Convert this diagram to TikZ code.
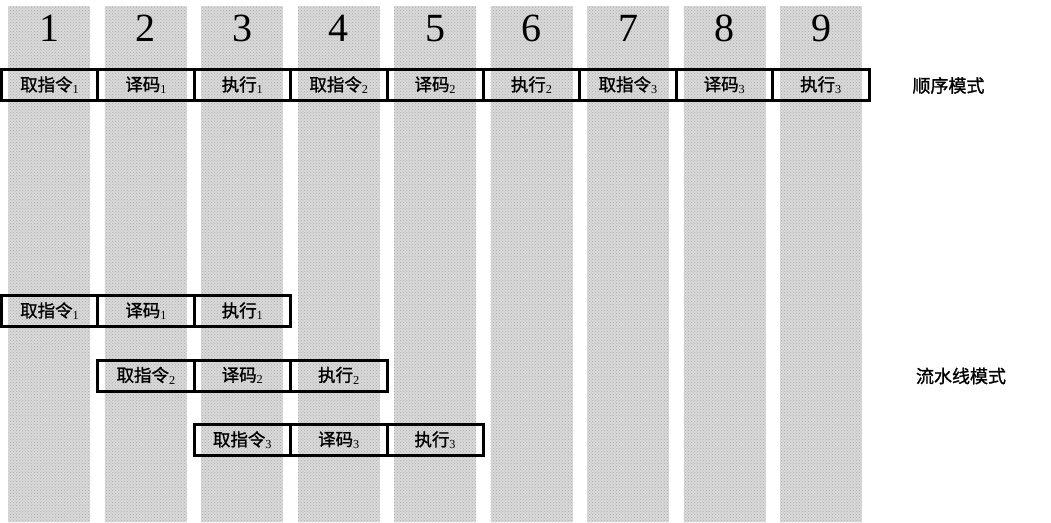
\documentclass[tikz,border=0pt]{standalone}
\usepackage{fontspec}
\setmainfont{Liberation Serif}
\newfontfamily\cjk[FakeBold=1.2]{Noto Sans CJK SC}
\usetikzlibrary{positioning,patterns}

\begin{document}
\begin{tikzpicture}[x=1pt,y=-1pt,
  cell/.style={draw, line width=3pt, outer sep=0pt, inner sep=0pt,
    minimum width=96.4pt, minimum height=31pt, font=\fontsize{17.5}{17.5}\selectfont},
  stagenum/.style={font=\fontsize{40}{40}\selectfont},
  modelabel/.style={font=\cjk\fontsize{18}{18}\selectfont}]
\useasboundingbox (0,0) rectangle (1051,522);
% time slots
\foreach \k in {0,...,8}{
  \fill[black!15] ({8+96.5*\k},6) rectangle ({90+96.5*\k},522);
  \fill[pattern=crosshatch dots, pattern color=black!32] ({8+96.5*\k},6) rectangle ({90+96.5*\k},522);
}
\foreach \k in {1,...,9}
  \node[stagenum] (t\k) at ({49+96.5*(\k-1)},28.5) {\k};

% sequential
\node[cell, anchor=west] (a1) at (1.5,85) {{\cjk 取指令}\textsubscript{1}};
\node[cell, right=0pt of a1] (a2) {{\cjk 译码}\textsubscript{1}};
\node[cell, right=0pt of a2] (a3) {{\cjk 执行}\textsubscript{1}};
\node[cell, right=0pt of a3] (a4) {{\cjk 取指令}\textsubscript{2}};
\node[cell, right=0pt of a4] (a5) {{\cjk 译码}\textsubscript{2}};
\node[cell, right=0pt of a5] (a6) {{\cjk 执行}\textsubscript{2}};
\node[cell, right=0pt of a6] (a7) {{\cjk 取指令}\textsubscript{3}};
\node[cell, right=0pt of a7] (a8) {{\cjk 译码}\textsubscript{3}};
\node[cell, right=0pt of a8] (a9) {{\cjk 执行}\textsubscript{3}};
\node[modelabel] (seq) at (948.5,85.5) {顺序模式};

% pipeline
\node[cell, anchor=west] (b1) at (1.5,311) {{\cjk 取指令}\textsubscript{1}};
\node[cell, right=0pt of b1] (b2) {{\cjk 译码}\textsubscript{1}};
\node[cell, right=0pt of b2] (b3) {{\cjk 执行}\textsubscript{1}};
\node[cell, anchor=west] (c1) at (97.9,375.5) {{\cjk 取指令}\textsubscript{2}};
\node[cell, right=0pt of c1] (c2) {{\cjk 译码}\textsubscript{2}};
\node[cell, right=0pt of c2] (c3) {{\cjk 执行}\textsubscript{2}};
\node[cell, anchor=west] (d1) at (194.3,440) {{\cjk 取指令}\textsubscript{3}};
\node[cell, right=0pt of d1] (d2) {{\cjk 译码}\textsubscript{3}};
\node[cell, right=0pt of d2] (d3) {{\cjk 执行}\textsubscript{3}};
\node[modelabel] (pipe) at (961,376) {流水线模式};
\end{tikzpicture}
\end{document}
